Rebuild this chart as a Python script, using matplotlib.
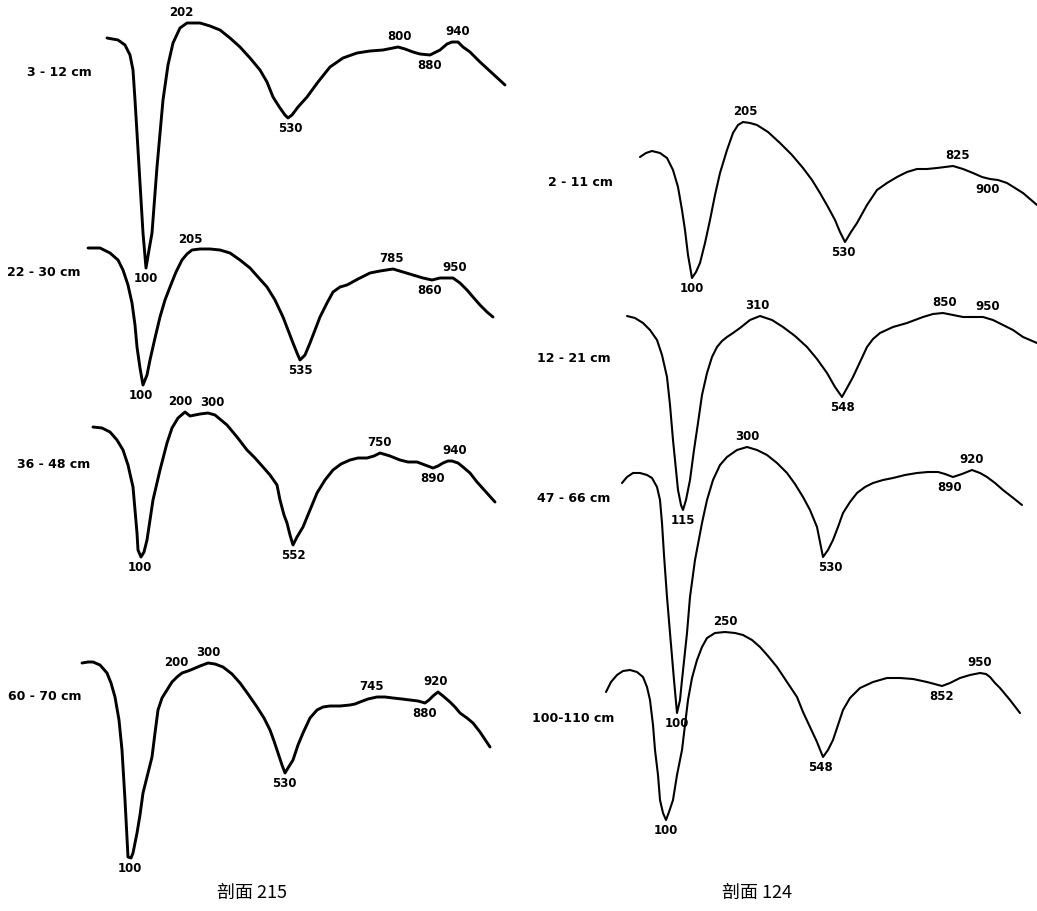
import numpy as np
import matplotlib.pyplot as plt

# ==================== traced DTA curves (x, y in picture pixels) ====================

# profile 215
p215_a = np.array([(107, 38), (118, 40), (125, 45), (130, 55), (133, 70), (135, 100), (137, 133),
                   (140, 183), (143, 233), (146, 268), (149, 250), (152, 233), (157, 167), (163, 100),
                   (168, 65), (173, 43), (180, 28), (187, 23), (200, 23), (210, 26), (220, 30),
                   (230, 38), (240, 47), (250, 58), (260, 70), (267, 82), (273, 97), (280, 108),
                   (285, 115), (288, 118), (292, 115), (298, 107), (307, 97), (318, 82), (330, 67),
                   (343, 58), (357, 53), (370, 51), (383, 50), (398, 47), (405, 49), (413, 52),
                   (420, 54), (430, 55), (440, 50), (447, 44), (452, 42), (458, 42), (463, 47),
                   (470, 52), (480, 62), (492, 73), (505, 85)])
p215_b = np.array([(88, 248), (100, 248), (110, 253), (118, 260), (123, 270), (128, 285), (132, 303),
                   (135, 325), (137, 347), (140, 368), (143, 385), (147, 375), (150, 360), (155, 338),
                   (160, 317), (165, 300), (170, 287), (176, 272), (182, 260), (187, 254), (192, 250),
                   (200, 249), (210, 249), (220, 250), (230, 253), (240, 260), (250, 268), (258, 277),
                   (267, 287), (275, 300), (283, 317), (288, 330), (293, 343), (297, 353), (300, 360),
                   (305, 355), (310, 343), (315, 330), (320, 317), (327, 303), (333, 292), (340, 287),
                   (347, 285), (358, 279), (370, 273), (380, 271), (393, 269), (403, 272), (413, 275),
                   (423, 278), (432, 280), (440, 278), (447, 278), (453, 278), (460, 283), (467, 290),
                   (473, 297), (480, 305), (487, 312), (493, 317)])
p215_c = np.array([(93, 427), (102, 428), (110, 432), (117, 440), (123, 450), (128, 465), (133, 487),
                   (135, 510), (137, 533), (138, 550), (141, 557), (144, 552), (147, 540), (150, 520),
                   (153, 500), (160, 470), (167, 443), (172, 428), (178, 418), (185, 412), (190, 416),
                   (195, 415), (200, 414), (208, 413), (215, 415), (227, 425), (237, 437), (247, 450),
                   (255, 458), (263, 467), (270, 475), (277, 485), (280, 500), (284, 515), (287, 523),
                   (290, 535), (293, 545), (297, 537), (303, 527), (310, 510), (317, 493), (325, 480),
                   (333, 470), (341, 464), (350, 460), (358, 458), (367, 458), (374, 456), (380, 453),
                   (390, 456), (400, 460), (408, 462), (417, 462), (425, 465), (433, 468), (438, 466),
                   (443, 463), (448, 461), (452, 461), (458, 463), (463, 467), (470, 473), (477, 482),
                   (486, 492), (495, 502)])
p215_d = np.array([(82, 663), (88, 662), (93, 662), (100, 665), (107, 673), (111, 683), (115, 697),
                   (119, 720), (122, 750), (125, 800), (128, 857), (131, 858), (133, 853), (137, 833),
                   (140, 815), (143, 793), (147, 777), (152, 757), (155, 733), (158, 710), (162, 698),
                   (167, 690), (172, 682), (177, 677), (182, 673), (188, 671), (193, 669), (200, 666),
                   (208, 663), (215, 664), (223, 667), (232, 674), (240, 683), (248, 694), (257, 707),
                   (264, 718), (270, 730), (274, 741), (278, 753), (282, 765), (285, 773), (288, 768),
                   (293, 760), (298, 745), (303, 733), (310, 718), (317, 710), (323, 707), (330, 706),
                   (340, 706), (350, 705), (355, 704), (360, 702), (368, 699), (377, 697), (385, 697),
                   (393, 698), (402, 699), (410, 700), (418, 701), (425, 703), (429, 700), (433, 696),
                   (438, 692), (443, 696), (450, 702), (455, 707), (460, 713), (467, 718), (473, 723),
                   (480, 732), (490, 747)])

# profile 124
p124_a = np.array([(640, 157), (646, 153), (652, 151), (660, 153), (667, 158), (673, 170), (678, 187),
                   (682, 210), (685, 230), (688, 255), (692, 278), (696, 272), (700, 263), (705, 243),
                   (710, 220), (715, 195), (720, 173), (727, 150), (733, 133), (738, 125), (743, 122),
                   (750, 123), (757, 125), (768, 132), (780, 143), (792, 155), (803, 168), (812, 180),
                   (820, 193), (828, 207), (835, 220), (840, 232), (845, 242), (851, 232), (857, 223),
                   (867, 205), (877, 190), (887, 183), (897, 177), (907, 172), (917, 169), (927, 169),
                   (937, 168), (945, 167), (953, 166), (963, 169), (973, 173), (982, 177), (990, 179),
                   (998, 180), (1007, 183), (1015, 188), (1023, 193), (1030, 199), (1037, 205)])
p124_b = np.array([(627, 316), (635, 318), (643, 323), (650, 330), (657, 340), (662, 355), (667, 377),
                   (670, 405), (673, 440), (676, 470), (678, 490), (681, 505), (683, 510), (686, 500),
                   (690, 480), (694, 450), (698, 423), (702, 395), (707, 373), (712, 357), (717, 347),
                   (722, 341), (727, 337), (733, 333), (740, 328), (750, 320), (760, 316), (772, 320),
                   (783, 327), (795, 336), (807, 347), (817, 359), (827, 373), (835, 387), (842, 397),
                   (847, 388), (853, 377), (860, 362), (867, 347), (873, 339), (880, 333), (893, 327),
                   (907, 323), (915, 320), (923, 317), (933, 314), (943, 313), (953, 315), (963, 317),
                   (973, 317), (983, 317), (993, 320), (1003, 325), (1013, 330), (1023, 337),
                   (1030, 340), (1037, 343)])
p124_c = np.array([(622, 483), (627, 477), (633, 473), (640, 473), (647, 475), (652, 478), (657, 487),
                   (660, 500), (662, 523), (664, 555), (667, 597), (670, 633), (674, 680), (677, 713),
                   (680, 700), (682, 680), (687, 633), (690, 597), (695, 560), (702, 523), (707, 500),
                   (713, 480), (720, 465), (727, 457), (737, 450), (747, 447), (757, 450), (767, 455),
                   (777, 463), (787, 473), (795, 484), (803, 497), (810, 510), (817, 527), (820, 542),
                   (823, 557), (828, 550), (833, 540), (838, 527), (843, 513), (850, 502), (857, 493),
                   (865, 487), (873, 483), (883, 480), (893, 478), (905, 475), (917, 473), (928, 472),
                   (938, 472), (945, 474), (953, 477), (962, 474), (972, 470), (980, 473), (987, 477),
                   (995, 483), (1003, 490), (1012, 497), (1022, 505)])
p124_d = np.array([(606, 692), (611, 682), (617, 675), (623, 671), (630, 670), (637, 672), (643, 677),
                   (647, 687), (650, 700), (653, 725), (655, 750), (658, 775), (660, 800), (663, 813),
                   (666, 820), (669, 812), (673, 800), (677, 775), (682, 750), (685, 725), (688, 700),
                   (692, 678), (697, 660), (702, 647), (707, 638), (715, 633), (725, 632), (735, 633),
                   (743, 635), (752, 640), (760, 647), (768, 656), (777, 667), (787, 682), (797, 697),
                   (803, 712), (810, 727), (817, 742), (823, 757), (828, 750), (833, 740), (838, 725),
                   (843, 710), (850, 698), (860, 688), (873, 682), (887, 678), (900, 678), (913, 679),
                   (927, 682), (942, 686), (950, 683), (960, 678), (970, 675), (980, 673), (986, 674),
                   (990, 677), (995, 683), (1000, 688), (1010, 700), (1020, 713)])

# sample depths
depths_215 = ["3 - 12 cm", "22 - 30 cm", "36 - 48 cm", "60 - 70 cm"]
depths_124 = ["2 - 11 cm", "12 - 21 cm", "47 - 66 cm", "100-110 cm"]

# peak temperatures: (label, x, above/below)
peaks_215 = [
    [("100", 146, "b"), ("202", 181, "a"), ("530", 290, "b"), ("800", 400, "a"), ("880", 430, "b"), ("940", 458, "a")],
    [("100", 141, "b"), ("205", 190, "a"), ("535", 300, "b"), ("785", 392, "a"), ("860", 430, "b"), ("950", 455, "a")],
    [("100", 140, "b"), ("200", 180, "a"), ("300", 212, "a"), ("552", 293, "b"), ("750", 380, "a"), ("890", 433, "b"), ("940", 455, "a")],
    [("100", 130, "b"), ("200", 176, "a"), ("300", 208, "a"), ("530", 284, "b"), ("745", 372, "a"), ("880", 425, "b"), ("920", 436, "a")],
]
peaks_124 = [
    [("100", 692, "b"), ("205", 745, "a"), ("530", 843, "b"), ("825", 958, "a"), ("900", 988, "b")],
    [("115", 683, "b"), ("310", 757, "a"), ("548", 842, "b"), ("850", 945, "a"), ("950", 988, "a")],
    [("100", 677, "b"), ("300", 747, "a"), ("530", 830, "b"), ("890", 950, "b"), ("920", 972, "a")],
    [("100", 666, "b"), ("250", 725, "a"), ("548", 820, "b"), ("852", 942, "b"), ("950", 980, "a")],
]

# layout: depth label anchor (left x, y)
depth_pos_215 = [(27, 72), (7, 273), (17, 465), (8, 697)]
depth_pos_124 = [(548, 182), (537, 358), (537, 498), (532, 718)]


def label_peaks(ax, pts, peaks, fs, weight):
    for txt, x0, side in peaks:
        near = pts[np.abs(pts[:, 0] - x0) <= 8]
        if side == "a":
            y = near[:, 1].min() - 4
            va = "bottom"
        else:
            y = near[:, 1].max() + 4
            va = "top"
        ax.text(x0, y, txt, ha="center", va=va, fontsize=fs, fontweight=weight,
                family="DejaVu Sans")


fig = plt.figure(figsize=(10.37, 9.11), dpi=100)
ax = fig.add_axes([0, 0, 1, 1])
ax.set_xlim(0, 1037)
ax.set_ylim(911, 0)
ax.axis("off")

for pts, peaks, dtxt, dpos in zip([p215_a, p215_b, p215_c, p215_d], peaks_215,
                                  depths_215, depth_pos_215):
    ax.plot(pts[:, 0], pts[:, 1], color="black", lw=2.1, solid_joinstyle="round",
            solid_capstyle="round")
    label_peaks(ax, pts, peaks, 8.5, "bold")
    ax.text(dpos[0], dpos[1], dtxt, ha="left", va="center", fontsize=9, fontweight="bold")

for pts, peaks, dtxt, dpos in zip([p124_a, p124_b, p124_c, p124_d], peaks_124,
                                  depths_124, depth_pos_124):
    ax.plot(pts[:, 0], pts[:, 1], color="black", lw=1.5, solid_joinstyle="round",
            solid_capstyle="round")
    label_peaks(ax, pts, peaks, 8.5, "semibold")
    ax.text(dpos[0], dpos[1], dtxt, ha="left", va="center", fontsize=9, fontweight="bold")

cjk = ["Noto Sans CJK SC", "DejaVu Sans"]
ax.text(252, 893, "剖面 215", ha="center", va="center", fontsize=13, family=cjk)
ax.text(757, 893, "剖面 124", ha="center", va="center", fontsize=13, family=cjk)

fig.savefig("out.png", dpi=100)
